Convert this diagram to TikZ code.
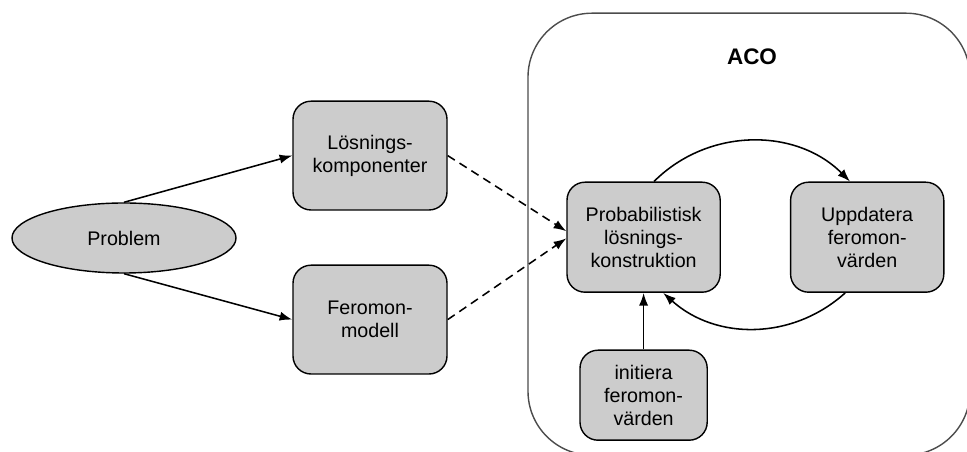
\documentclass[tikz,border=0pt]{standalone}
\usepackage{fontspec}
\setmainfont{Liberation Sans}
\usetikzlibrary{shapes.geometric, arrows.meta, positioning}

\begin{document}
\begin{tikzpicture}[>={Latex[length=9pt,width=6.5pt]},
    box/.style={draw, line width=1pt, fill=gray!40, rounded corners=0.45cm, align=center, font=\fontsize{14}{16.5}\selectfont},
    link/.style={->, line width=1.1pt},
    every node/.style={inner sep=0pt}]

    % Canvas
    \useasboundingbox (0,0) rectangle (24.175,-11.3);
    \clip (0,0) rectangle (24.175,-11.3);

    % ACO container
    \draw[line width=1pt, black!70, rounded corners=1.6cm] (13.2,-0.33) rectangle (24.25,-11.38);
    \node[font=\fontsize{16}{19}\selectfont\bfseries] (aco) at (18.8,-1.43) {ACO};

    % Define the nodes
    \node[ellipse, draw, line width=1pt, fill=gray!40, minimum width=5.6cm, minimum height=1.75cm, font=\fontsize{14}{16.5}\selectfont] (prob) at (3.1,-5.95) {Problem};
    \node[box, minimum width=3.85cm, minimum height=2.72cm] (losn) at (9.25,-3.89) {Lösnings-\\komponenter};
    \node[box, minimum width=3.85cm, minimum height=2.72cm] (fero) at (9.25,-7.99) {Feromon-\\modell};
    \node[box, minimum width=3.83cm, minimum height=2.75cm] (kons) at (16.09,-5.93) {Probabilistisk\\lösnings-\\konstruktion};
    \node[box, minimum width=3.83cm, minimum height=2.75cm] (uppd) at (21.68,-5.93) {Uppdatera\\feromon-\\värden};
    \node[box, minimum width=3.18cm, minimum height=2.25cm] (init) at (16.09,-9.88) {initiera\\feromon-\\värden};

    % Define the connectors
    \draw[link] (prob.north) -- (losn.west);
    \draw[link] (prob.south) -- (fero.west);
    \draw[link, dash pattern=on 6pt off 4pt] (losn.east) -- ([yshift=0.15cm]kons.west);
    \draw[link, dash pattern=on 6pt off 4pt] (fero.east) -- ([yshift=-0.03cm]kons.west);
    \draw[link] (init) -- (kons);
    \draw[link] ([xshift=0.26cm]kons.north) to[bend left=45] ([xshift=-0.43cm]uppd.north);
    \draw[link] ([xshift=-0.55cm]uppd.south) to[bend left=42] ([xshift=0.49cm]kons.south);

\end{tikzpicture}
\end{document}
